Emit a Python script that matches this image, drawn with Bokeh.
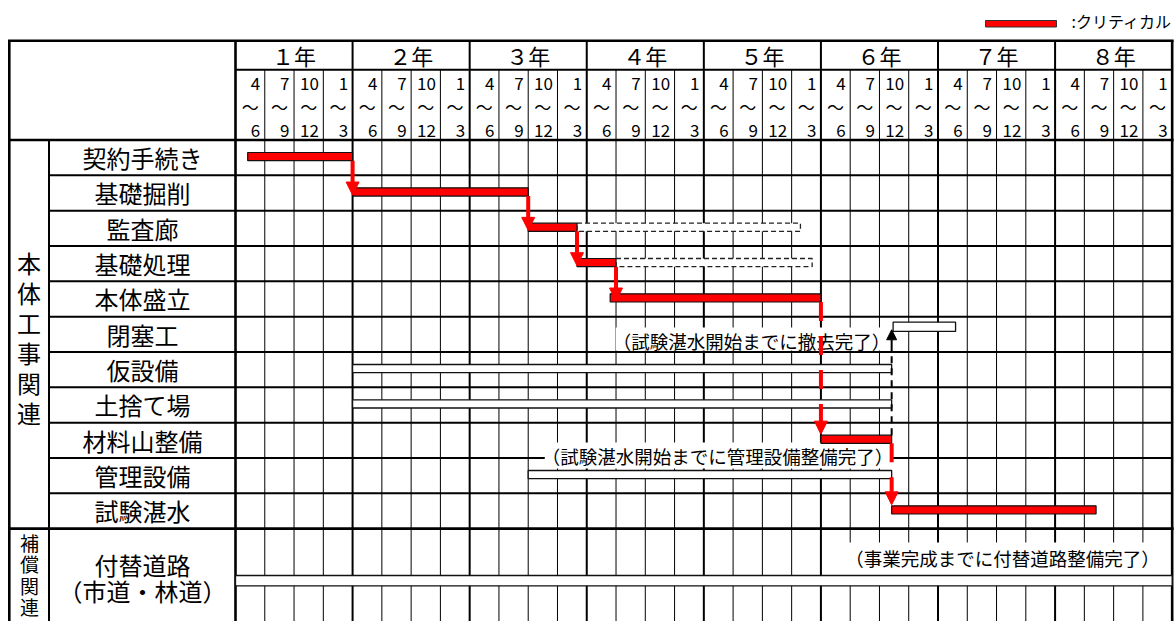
from bokeh.plotting import figure
from bokeh.models import Range1d, ColumnDataSource, Arrow, NormalHead
from bokeh.core.properties import value
from bokeh.embed import file_html
from bokeh.resources import INLINE

# ---------------- data ----------------
years = ["１年", "２年", "３年", "４年", "５年", "６年", "７年", "８年"]
quarter_from = ["4", "7", "10", "1"]
quarter_to = ["6", "9", "12", "3"]
quarter_wave = "〜"

tasks = ["契約手続き", "基礎掘削", "監査廊", "基礎処理", "本体盛立", "閉塞工",
         "仮設備", "土捨て場", "材料山整備", "管理設備", "試験湛水",
         "付替道路\n（市道・林道）"]
group_names = ["本体工事関連", "補償関連"]

# months from April of year 1
critical_tasks = ["契約手続き", "基礎掘削", "監査廊", "基礎処理", "本体盛立", "材料山整備", "試験湛水"]
critical_start = [1.25, 12, 30, 35, 38.4, 60, 67.25]
critical_end = [12, 30, 35, 39, 60, 67.25, 88.2]

slack_tasks = ["監査廊", "基礎処理"]
slack_start = [35, 39]
slack_end = [57.9, 59.1]

other_tasks = ["閉塞工", "仮設備", "土捨て場", "管理設備", "付替道路\n（市道・林道）"]
other_start = [67.4, 12, 12, 30, 0]
other_end = [73.8, 67.25, 67.25, 67.25, 96]

link_from = ["契約手続き", "基礎掘削", "監査廊", "基礎処理", "本体盛立", "材料山整備"]
link_to = ["基礎掘削", "監査廊", "基礎処理", "本体盛立", "材料山整備", "試験湛水"]
link_dashed = [False, False, False, False, True, True]

constraint_from = "材料山整備"
constraint_to = "閉塞工"

notes = ["（試験湛水開始までに撤去完了）",
         "（試験湛水開始までに管理設備整備完了）",
         "（事業完成までに付替道路整備完了）"]
legend_label = ":クリティカル"

# ---------------- layout helpers ----------------
W, H = 1174, 621
X0 = 235.0      # px of grid start
PX_M = 9.757    # px per month
Y0 = 139.5      # px of first body row
RH = 35.33      # row height px


def lx(px):
    return (px - X0) / PX_M


def yy(py):
    return (py - Y0) / RH


def dy(d):
    return d / RH


FONT = value("Noto Sans CJK JP")
NMONTH = 12 * len(years)

p = figure(width=W, height=H, x_range=Range1d(lx(0), lx(W)),
           y_range=Range1d(yy(H), yy(0)), output_backend="svg",
           toolbar_location=None, x_axis_type=None, y_axis_type=None,
           min_border=0, outline_line_color=None, background_fill_color="white")
p.xgrid.visible = False
p.ygrid.visible = False

BOTTOM = yy(700)
TOP = yy(40.3)
SEP = yy(69.3)
RIGHT = NMONTH

# ---------------- grid lines ----------------
qx = [m for m in range(3, NMONTH, 3) if m % 12 != 0]
p.segment(x0=qx, y0=[SEP] * len(qx), x1=qx, y1=[BOTTOM] * len(qx), line_color="black", line_width=1)
yx = list(range(12, NMONTH, 12))
p.segment(x0=yx, y0=[TOP] * len(yx), x1=yx, y1=[BOTTOM] * len(yx), line_color="black", line_width=2)
rows_in = list(range(1, 11))
p.segment(x0=[lx(48.5)] * len(rows_in), y0=rows_in, x1=[RIGHT] * len(rows_in), y1=rows_in,
          line_color="black", line_width=2)
p.segment(x0=[0], y0=[SEP], x1=[RIGHT], y1=[SEP], line_color="black", line_width=2)
p.segment(x0=[lx(48.5)], y0=[0], x1=[lx(48.5)], y1=[BOTTOM], line_color="black", line_width=2)
p.segment(x0=[lx(7.5), lx(7.5), lx(7.5), lx(8.8), 0, RIGHT],
          y0=[TOP, 0, 11, TOP, TOP, TOP],
          x1=[RIGHT + 0.15, RIGHT + 0.15, RIGHT + 0.15, lx(8.8), 0, RIGHT],
          y1=[TOP, 0, 11, BOTTOM, BOTTOM, BOTTOM],
          line_color="black", line_width=2.6)

# ---------------- header texts ----------------
p.text(x=[12 * k + 6 for k in range(len(years))], y=[yy(54.5)] * len(years), text=years,
       text_font=FONT, text_font_size="22px", text_align="center", text_baseline="middle",
       text_color="black")
qtx, qty, qtt, qwx = [], [], [], []
for k in range(len(years)):
    for j in range(4):
        right = 12 * k + 3 * (j + 1) - 4.5 / PX_M
        qtx += [right, right]
        qty += [yy(82.5), yy(130)]
        qtt += [quarter_from[j], quarter_to[j]]
        qwx.append(12 * k + 3 * j + 1.5)
p.text(x=qtx, y=qty, text=qtt, text_font=FONT, text_font_size="17px",
       text_align="right", text_baseline="middle", text_color="black")
p.text(x=qwx, y=[yy(106)] * len(qwx), text=[quarter_wave] * len(qwx), text_font=FONT,
       text_font_size="17px", text_align="center", text_baseline="middle", text_color="black")

# ---------------- task labels ----------------
lab_x, lab_y, lab_t = [], [], []
for i, t in enumerate(tasks[:-1]):
    lab_x.append(lx(142)); lab_y.append(i + 0.5); lab_t.append(t)
last_lines = tasks[-1].split("\n")
for t, py in zip(last_lines, [564, 590]):
    lab_x.append(lx(142)); lab_y.append(yy(py)); lab_t.append(t)
p.text(x=lab_x, y=lab_y, text=lab_t, text_font=FONT, text_font_size="24px",
       text_align="center", text_baseline="middle", text_color="black")

# group labels (vertical)
g1 = list(group_names[0])
p.text(x=[lx(28.5)] * len(g1), y=[yy(261.5) + i * dy(30) for i in range(len(g1))], text=g1,
       text_font=FONT, text_font_size="24px", text_align="center", text_baseline="middle",
       text_color="black")
g2 = list(group_names[1])
p.text(x=[lx(29)] * len(g2), y=[yy(541.7) + i * dy(21.5) for i in range(len(g2))], text=g2,
       text_font=FONT, text_font_size="19px", text_align="center", text_baseline="middle",
       text_color="black")

# ---------------- notes (with white background) ----------------
NOTE_FS = 18.5
note_x = [lx(751), lx(717), lx(1002)]
note_y = [yy(340), yy(455), yy(557.3)]
note_bg_h = [23, 26, 33]
note_bg_dy = [-1.5, 0, 1.2]
bg_l, bg_r, bg_t, bg_b = [], [], [], []
for t, x, y, h, d in zip(notes, note_x, note_y, note_bg_h, note_bg_dy):
    half = (len(t) * NOTE_FS - 6) / 2 / PX_M
    bg_l.append(x - half)
    bg_r.append(x + half)
    bg_t.append(y + dy(d) - dy(h / 2))
    bg_b.append(y + dy(d) + dy(h / 2))
p.quad(left=bg_l, right=bg_r, top=bg_t, bottom=bg_b, fill_color="white", line_color=None)
p.text(x=note_x, y=note_y, text=notes, text_font=FONT, text_font_size=f"{NOTE_FS}px",
       text_align="center", text_baseline="middle", text_color="black")

# ---------------- bars ----------------
row = {t: i for i, t in enumerate(tasks)}
bar_c = {t: 0.47 for t in tasks}
bar_h = {t: 0.232 for t in tasks}
bar_c["閉塞工"] = dy(10.15)
bar_h["閉塞工"] = dy(9.3)
bar_c[tasks[-1]] = dy(52)
bar_h[tasks[-1]] = dy(10.3)


def btop(t):
    return row[t] + bar_c[t] - bar_h[t] / 2


def bbot(t):
    return row[t] + bar_c[t] + bar_h[t] / 2


other_src = ColumnDataSource(dict(left=other_start, right=other_end,
                                  top=[btop(t) for t in other_tasks],
                                  bottom=[bbot(t) for t in other_tasks]))
p.quad(left="left", right="right", top="top", bottom="bottom", source=other_src,
       fill_color="white", line_color="#111111", line_width=1.3)

slack_src = ColumnDataSource(dict(left=slack_start, right=slack_end,
                                  top=[btop(t) for t in slack_tasks],
                                  bottom=[bbot(t) for t in slack_tasks]))
p.quad(left="left", right="right", top="top", bottom="bottom", source=slack_src,
       fill_color="white", line_color="#222222", line_width=1.3, line_dash="5 3")

crit_src = ColumnDataSource(dict(left=critical_start, right=critical_end,
                                 top=[btop(t) for t in critical_tasks],
                                 bottom=[bbot(t) for t in critical_tasks]))
p.quad(left="left", right="right", top="top", bottom="bottom", source=crit_src,
       fill_color="#FF0000", line_color="#111111", line_width=1.2)

# ---------------- critical path arrows ----------------
crit_end_of = dict(zip(critical_tasks, critical_end))
solid = dict(xs=[], ys=[], xe=[], ye=[])
dashed = dict(xs=[], ys=[], xe=[], ye=[])
for a, b, d in zip(link_from, link_to, link_dashed):
    x = crit_end_of[a]
    if d:
        dashed["xs"].append(x); dashed["ys"].append(bbot(a))
        dashed["xe"].append(x); dashed["ye"].append(btop(b) - dy(1))
    else:
        solid["xs"].append(x); solid["ys"].append(bbot(a))
        solid["xe"].append(x); solid["ye"].append(bbot(b) - dy(1))

p.add_layout(Arrow(x_start="xs", y_start="ys", x_end="xe", y_end="ye",
                   source=ColumnDataSource(solid), line_color="#FF0000", line_width=4,
                   end=NormalHead(size=13, fill_color="#FF0000", line_color="#FF0000", line_width=1)))
p.add_layout(Arrow(x_start="xs", y_start="ys", x_end="xe", y_end="ye",
                   source=ColumnDataSource(dashed), line_color="#FF0000", line_width=4,
                   line_dash="19 15",
                   end=NormalHead(size=13, fill_color="#FF0000", line_color="#FF0000", line_width=1)))

# constraint arrow (black)
cx = crit_end_of[constraint_from]
p.segment(x0=[cx], y0=[btop(constraint_from)], x1=[cx], y1=[row["仮設備"]],
          line_color="black", line_width=2, line_dash="7 5")
p.add_layout(Arrow(x_start=cx, y_start=row["仮設備"], x_end=cx, y_end=bbot(constraint_to) - dy(1.7),
                   line_color="black", line_width=2,
                   end=NormalHead(size=10, fill_color="black", line_color="black", line_width=1)))

# ---------------- legend ----------------
p.quad(left=[lx(985)], right=[lx(1056)], top=[yy(20)], bottom=[yy(26.5)],
       fill_color="#FF0000", line_color="#333333", line_width=1)
p.text(x=[lx(1071)], y=[yy(20.5)], text=[legend_label], text_font=FONT, text_font_size="16px",
       text_align="left", text_baseline="middle", text_color="black")

open("out.html", "w").write(file_html(p, INLINE))
